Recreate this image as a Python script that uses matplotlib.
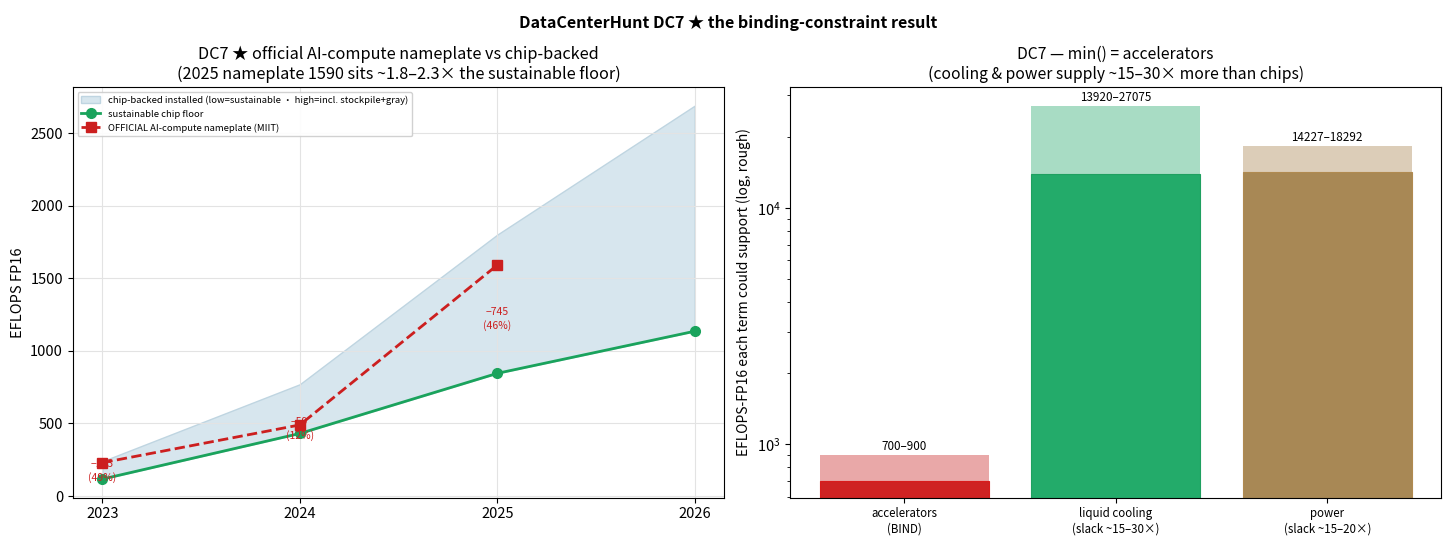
import numpy as np
import matplotlib
matplotlib.use("Agg")
import matplotlib.pyplot as plt

plt.rcParams['font.family'] = ['Noto Sans CJK SC', 'DejaVu Sans']

# left panel data
years = [2023, 2024, 2025, 2026]
floor = [117, 431, 845, 1135]
band_high = [240, 770, 1800, 2688]
name_years = [2023, 2024, 2025]
nameplate = [230, 490, 1590]
gap_labels = ["−113\n(49%)", "−59\n(12%)", "−745\n(46%)"]

# right panel data
terms = ["accelerators\n(BIND)", "liquid cooling\n(slack ~15–30×)", "power\n(slack ~15–20×)"]
term_low = [700, 13920, 14227]
term_high = [900, 27075, 18292]
dark_colors = ["#cf2222", "#23ab6a", "#a88855"]
light_colors = ["#e9a8a8", "#a8dcc4", "#dccdb8"]
edge_colors = ["#d81c1c", "#1fa060", "#b08a50"]

fig, (ax1, ax2) = plt.subplots(1, 2, figsize=(14.56, 5.44), dpi=100)
fig.subplots_adjust(left=0.050, right=0.990, bottom=0.085, top=0.840, wspace=0.101)

ax1.fill_between(years, floor, band_high, facecolor="#d7e6ee", edgecolor="#bfd5e1", lw=1,
                 label="chip-backed installed (low=sustainable · high=incl. stockpile+gray)")
ax1.plot(years, floor, "-o", color="#1aa35c", lw=2, ms=7, label="sustainable chip floor")
ax1.plot(name_years, nameplate, "--s", color="#cc1f1f", lw=2, ms=7,
         label="OFFICIAL AI-compute nameplate (MIIT)")
for y, n, f, t in zip(name_years, nameplate, floor, gap_labels):
    ax1.text(y, (n + f) / 2, t, color="#cc1f1f", fontsize=7.5, ha="center", va="center",
             linespacing=1.3)
ax1.set_xticks(years)
ax1.set_ylabel("EFLOPS FP16", fontsize=10.5)
ax1.tick_params(labelsize=10.5)
ax1.grid(True, color="#e3e3e3", lw=0.8)
ax1.set_title("DC7 ★ official AI-compute nameplate vs chip-backed\n"
              "(2025 nameplate 1590 sits ~1.8–2.3× the sustainable floor)", fontsize=11.7)
ax1.legend(loc="upper left", fontsize=6.8, framealpha=0.9)

x = np.arange(len(terms))
ax2.bar(x, term_high, width=0.8, color=light_colors)
ax2.bar(x, term_low, width=0.8, color=dark_colors, edgecolor=edge_colors, lw=0.8)
ax2.set_yscale("log")
ax2.set_ylim(min(term_low) * 0.85, max(term_high) * 1.2)
for xi, lo, hi in zip(x, term_low, term_high):
    ax2.text(xi, hi * 1.02, f"{lo}–{hi}", ha="center", va="bottom", fontsize=8.4)
ax2.set_xticks(x)
ax2.set_xticklabels(terms, fontsize=8.3)
ax2.tick_params(axis="y", labelsize=10.5)
ax2.set_ylabel("EFLOPS-FP16 each term could support (log, rough)", fontsize=10)
ax2.set_title("DC7 — min() = accelerators\n"
              "(cooling & power supply ~15–30× more than chips)", fontsize=11.3)

fig.suptitle("DataCenterHunt DC7 ★ the binding-constraint result", fontsize=11.6,
             fontweight="bold", y=0.972)

fig.savefig("out.png", dpi=100)
